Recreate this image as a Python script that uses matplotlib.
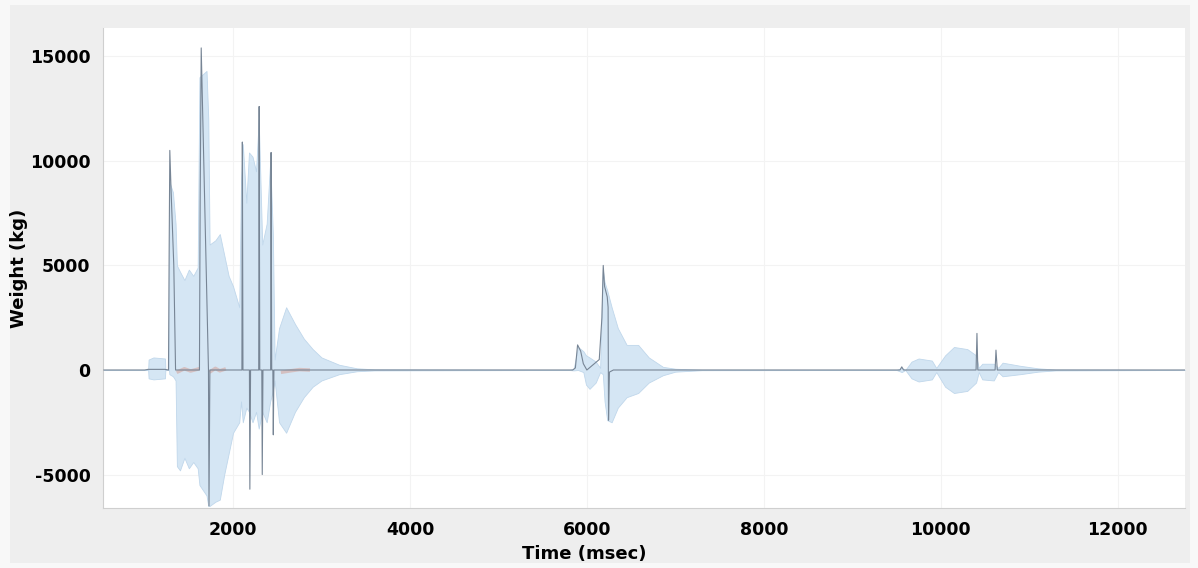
import numpy as np
import matplotlib.pyplot as plt
from matplotlib.patches import Rectangle

plt.rcParams['axes.unicode_minus'] = False

# envelope of the signal (time in msec, upper / lower weight in kg)
env_t = [540, 1000, 1040, 1045, 1100, 1230, 1235, 1275, 1280, 1320, 1350, 1365,
         1400, 1450, 1500, 1550, 1600, 1620, 1700, 1720, 1735, 1800, 1850, 1900,
         1950, 2000, 2070, 2090, 2110, 2150, 2180, 2220, 2260, 2290, 2330, 2380,
         2420, 2450, 2470, 2520, 2600, 2700, 2800, 2900, 3000, 3200, 3400, 3600,
         5800, 5850, 5900, 5960, 5990, 6030, 6100, 6150, 6180, 6200, 6230, 6280,
         6350, 6450, 6580, 6700, 6860, 7000, 7300, 9500, 9560, 9600, 9670, 9750,
         9900, 9950, 10050, 10150, 10300, 10400, 10430, 10470, 10600, 10650,
         10700, 10900, 11100, 11300, 12760]
env_hi = [0, 0, 0, 500, 600, 550, 0, 0, 9000, 8500, 7000, 5000,
          4700, 4300, 4800, 4500, 4900, 14000, 14300, 12000, 6000, 6200, 6500, 5500,
          4500, 4000, 3000, 9000, 10800, 8000, 10400, 10200, 9500, 12000, 6000, 7000,
          10000, 6500, 500, 2000, 3000, 2200, 1500, 1000, 600, 250, 80, 30,
          0, 50, 1100, 900, 700, 600, 400, 100, 4800, 4200, 3800, 3000,
          2000, 1200, 1200, 600, 150, 60, 10, 0, 100, 0, 400, 550,
          450, 100, 700, 1100, 1000, 700, 100, 300, 300, 100,
          350, 200, 80, 20, 0]
env_lo = [0, 0, 0, -400, -450, -400, 0, 0, -200, -300, -500, -4600,
          -4800, -4200, -4700, -4400, -4700, -5500, -6000, -6500, -6500, -6300, -6200, -5000,
          -4000, -3000, -2500, -1500, -2500, -1800, -2000, -2500, -2000, -2800, -2000, -2500,
          -1500, -1000, -500, -2500, -3000, -2000, -1300, -800, -500, -200, -60, -20,
          0, -20, 0, -100, -700, -900, -600, -100, -200, -1500, -2400, -2500,
          -1800, -1300, -1100, -600, -250, -80, -10, 0, -100, 0, -400, -550,
          -450, -100, -800, -1100, -1000, -600, -100, -450, -500, -100,
          -300, -200, -80, -20, 0]

# raw trace
line_t = [540, 1000, 1040, 1230, 1270, 1278, 1285, 1300, 1330, 1350, 1620, 1628,
          1640, 1722, 1728, 1738, 2100, 2105, 2112, 2185, 2190, 2198, 2290, 2295,
          2302, 2325, 2330, 2338, 2425, 2430, 2437, 2450, 2455, 2462, 5840, 5870,
          5895, 5930, 5960, 6000, 6140, 6170, 6185, 6200, 6230, 6240, 6245, 6255,
          6300, 9540, 9560, 9580, 10400, 10410, 10420, 10615, 10625, 10640, 12760]
line_v = [0, 0, 30, 30, 0, 6000, 10500, 8500, 5000, 0, 0, 8000,
          15400, 0, -6500, 0, 0, 10900, 0, 0, -5700, 0, 0, 12600,
          0, 0, -5000, 0, 0, 10400, 0, 0, -3100, 0, 0, 100,
          1200, 900, 300, 0, 500, 2500, 5000, 4000, 3500, 3000, -2400, -100,
          0, 0, 150, 0, 0, 1750, 0, 0, 950, 0, 0]

# reddish smear near zero inside the first burst
red_t = [1380, 1450, 1520, 1600, np.nan, 1750, 1800, 1850, 1900, np.nan, 2560, 2650, 2750, 2850]
red_v = [-80, 60, -50, 40, np.nan, -60, 80, -40, 30, np.nan, -100, -40, 20, 0]

xticks = [2000, 4000, 6000, 8000, 10000, 12000]
yticks = [-5000, 0, 5000, 10000, 15000]

fig = plt.figure(figsize=(11.98, 5.68), dpi=100)
fig.patch.set_facecolor('#f8f8f8')
fig.patches.append(Rectangle((0.008, 0.008), 0.985, 0.984, transform=fig.transFigure,
                             facecolor='#eeeeee', edgecolor='none', zorder=-1))

ax = fig.add_axes([0.086, 0.1056, 0.903, 0.845])
ax.set_facecolor('white')

ax.fill_between(env_t, env_lo, env_hi, color='#d5e6f4', edgecolor='#c0d7eb',
                linewidth=0.6, zorder=2)
ax.plot(red_t, red_v, color='#d4a7a0', lw=2.5, alpha=0.6, zorder=3)
ax.plot(line_t, line_v, color='#778595', lw=0.8, zorder=4)

ax.set_xlim(530, 12760)
ax.set_ylim(-6600, 16350)
ax.set_xticks(xticks)
ax.set_yticks(yticks)
ax.grid(True, color='#f3f3f3', lw=0.8, zorder=0)
ax.set_axisbelow(True)

for s in ['top', 'right']:
    ax.spines[s].set_visible(False)
for s in ['left', 'bottom']:
    ax.spines[s].set_color('#cfcfcf')
    ax.spines[s].set_linewidth(0.8)

ax.tick_params(axis='both', length=0, pad=9, labelsize=12.5)
for lab in ax.get_xticklabels() + ax.get_yticklabels():
    lab.set_fontweight('bold')

ax.set_xlabel('Time (msec)', fontsize=13, fontweight='bold')
ax.set_ylabel('Weight (kg)', fontsize=13, fontweight='bold')
ax.xaxis.set_label_coords(0.445, -0.077)
ax.yaxis.set_label_coords(-0.069, 0.5)

plt.savefig('out.png', dpi=100, facecolor=fig.get_facecolor())
